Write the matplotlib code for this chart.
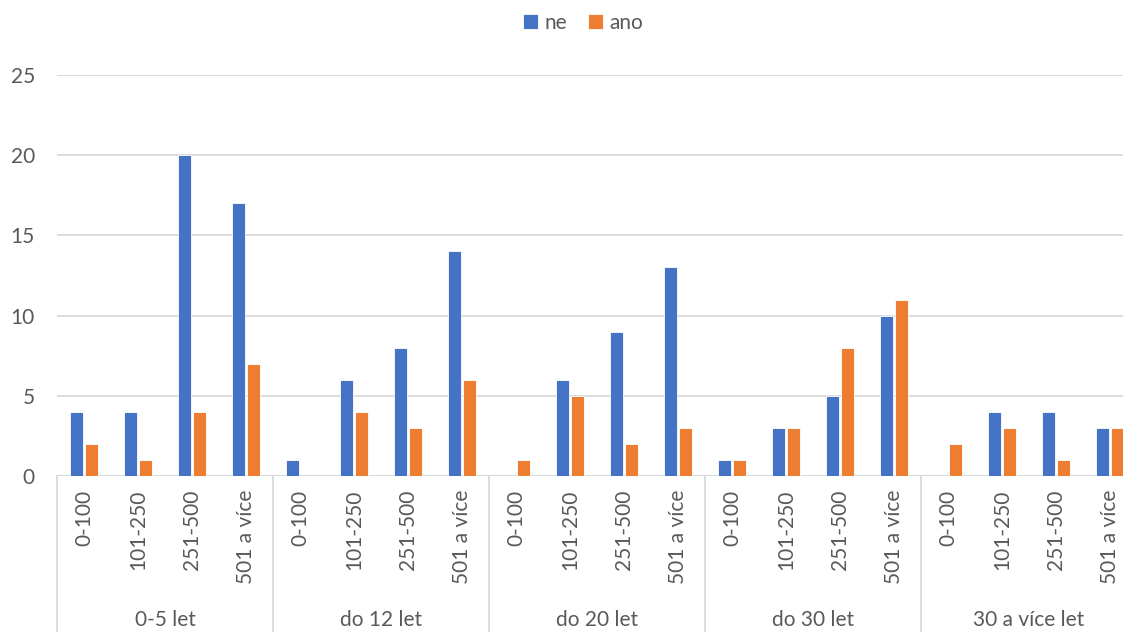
import matplotlib.pyplot as plt
import matplotlib.transforms as mtransforms
import numpy as np

plt.rcParams['font.family'] = ['Lato', 'DejaVu Sans']

groups = ["0-5 let", "do 12 let", "do 20 let", "do 30 let", "30 a více let"]
sizes = ["0-100", "101-250", "251-500", "501 a více"]

ne = [4, 4, 20, 17,
      1, 6, 8, 14,
      0, 6, 9, 13,
      1, 3, 5, 10,
      0, 4, 4, 3]
ano = [2, 1, 4, 7,
       0, 4, 3, 6,
       1, 5, 2, 3,
       1, 3, 8, 11,
       2, 3, 1, 3]

blue = "#4472C4"
orange = "#ED7D31"
grey = "#595959"
line = "#D9D9D9"
fs = 15

W, H = 1123, 632
fig = plt.figure(figsize=(W / 100, H / 100), dpi=100)
# plot area runs a little past the right edge of the canvas
ax = fig.add_axes([57 / W, 156 / H, 1080 / W, 401 / H])

x = np.arange(len(ne))
bw = 0.235
ax.bar(x - 0.14, ne, bw, color=blue, edgecolor="white", linewidth=0.6, label="ne", zorder=3)
ax.bar(x + 0.145, ano, bw, color=orange, edgecolor="white", linewidth=0.6, label="ano", zorder=3)

ax.set_xlim(-0.5, len(ne) - 0.5)
ax.set_ylim(0, 25)
ax.set_yticks(range(0, 26, 5))
ax.yaxis.grid(True, color=line, linewidth=1.3, zorder=0)
ax.set_axisbelow(True)
for s in ax.spines.values():
    s.set_visible(False)
ax.axhline(0, color=line, linewidth=1.5, zorder=2)

ax.tick_params(axis="y", length=0, pad=16, labelsize=fs, labelcolor=grey)
ax.set_xticks(x)
ax.set_xticklabels(sizes * len(groups), rotation=90, va="top", ha="center")
ax.tick_params(axis="x", length=0, pad=10, labelsize=fs, labelcolor=grey)

# second level of the category axis
trans = mtransforms.blended_transform_factory(ax.transData, ax.transAxes)
n = len(sizes)
for i, g in enumerate(groups):
    left = i * n - 0.5
    ax.plot([left, left], [0, -0.4], transform=trans, color=line, linewidth=1.3, clip_on=False)
    ax.text(left + n / 2, -0.36, g, transform=trans, ha="center", va="center",
            fontsize=fs, color=grey)
ax.plot([len(ne) - 0.5] * 2, [0, -0.4], transform=trans, color=line, linewidth=1.3, clip_on=False)

fig.legend(loc="center", bbox_to_anchor=(583 / W, 1 - 23 / H), ncol=2, frameon=False,
           fontsize=fs, labelcolor=grey, handlelength=0.75, handleheight=0.75,
           handletextpad=0.3, columnspacing=1.0)

fig.savefig("out.png", dpi=100)
